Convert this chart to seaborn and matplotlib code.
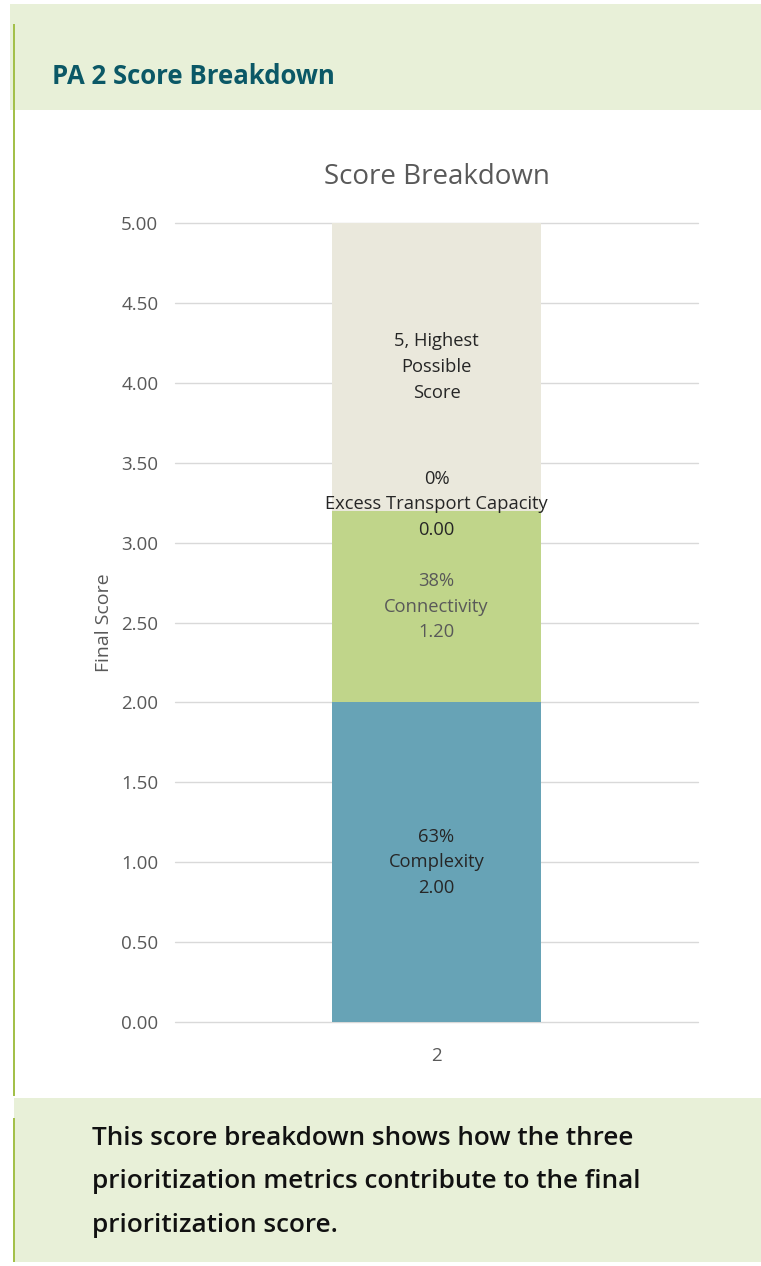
import matplotlib
matplotlib.use("Agg")
import matplotlib.pyplot as plt
from matplotlib.patches import Rectangle
import seaborn as sns

# chart data
category = ["2"]
segments = ["Complexity", "Connectivity", "Excess Transport Capacity", "Highest Possible"]
scores = [2.00, 1.20, 0.00, 1.80]
shares = ["63%", "38%", "0%", ""]
colors = ["#67a3b6", "#c0d58a", "#c0d58a", "#eae8dc"]
yticks = [0, 0.5, 1, 1.5, 2, 2.5, 3, 3.5, 4, 4.5, 5]

sns.set_style("white")
plt.rcParams["font.family"] = ["Open Sans", "DejaVu Sans"]

W, H = 761, 1266
fig = plt.figure(figsize=(W / 100, H / 100), dpi=100)
fig.patch.set_facecolor("white")


def px(x, y, w, h):
    # pixel box (top-left origin) -> figure fraction
    return (x / W, 1 - (y + h) / H), w / W, h / H


band = "#e8f0d8"
for box in [(10, 4, 751, 106), (14, 1098, 747, 164)]:
    xy, w, h = px(*box)
    fig.patches.append(Rectangle(xy, w, h, transform=fig.transFigure,
                                 facecolor=band, edgecolor="none", zorder=0))
for box in [(13, 24, 1.5, 1072), (13, 1118, 1.5, 144)]:
    xy, w, h = px(*box)
    fig.patches.append(Rectangle(xy, w, h, transform=fig.transFigure,
                                 facecolor="#a3c04a", edgecolor="none", zorder=1))

fig.text(52 / W, 1 - 76 / H, "PA 2 Score Breakdown", fontsize=18.5, fontweight="bold",
         color="#0b5866", va="center", ha="left")
fig.text(92 / W, 1 - 1182 / H,
         "This score breakdown shows how the three\nprioritization metrics contribute to the final\nprioritization score.",
         fontsize=18.8, fontweight="semibold", color="#111111", va="center", ha="left",
         linespacing=1.96)

ax = fig.add_axes([175 / W, (H - 1022) / H, (698 - 175) / W, (1022 - 223) / H])
ax.set_facecolor("none")

bottom = 0.0
for seg, val, col in zip(segments, scores, colors):
    sns.barplot(x=category, y=[val], bottom=bottom, color=col, width=0.4,
                saturation=1, linewidth=0, ax=ax, zorder=2)
    bottom += val

# data labels
bottom = 0.0
for seg, val, pct in zip(segments, scores, shares):
    mid = bottom + val / 2
    if seg == "Highest Possible":
        txt = "5, Highest\nPossible\nScore"
        col = "#262626"
    else:
        txt = f"{pct}\n{seg}\n{val:.2f}"
        col = "#595959" if seg == "Connectivity" else "#262626"
    if val == 0:
        mid += 0.04
    ax.text(0, mid, txt, ha="center", va="center", fontsize=13.2, color=col,
            linespacing=1.55, zorder=3)
    bottom += val

ax.set_xlim(-0.5, 0.5)
ax.set_ylim(0, 5)
ax.set_yticks(yticks)
ax.set_yticklabels([f"{t:.2f}" for t in yticks])
ax.grid(axis="y", color="#d9d9d9", linewidth=1)
ax.set_axisbelow(True)
for gl in ax.get_ygridlines():
    gl.set_clip_on(False)
for s in ax.spines.values():
    s.set_visible(False)
ax.tick_params(axis="both", length=0, labelsize=13.5, colors="#595959")
ax.tick_params(axis="y", pad=12)
ax.tick_params(axis="x", pad=18)
ax.set_ylabel("Final Score", fontsize=14, color="#595959", labelpad=6)
ax.set_xlabel("")
ax.set_title("Score Breakdown", fontsize=20, color="#595959", pad=28)

fig.savefig("out.png", dpi=100)
